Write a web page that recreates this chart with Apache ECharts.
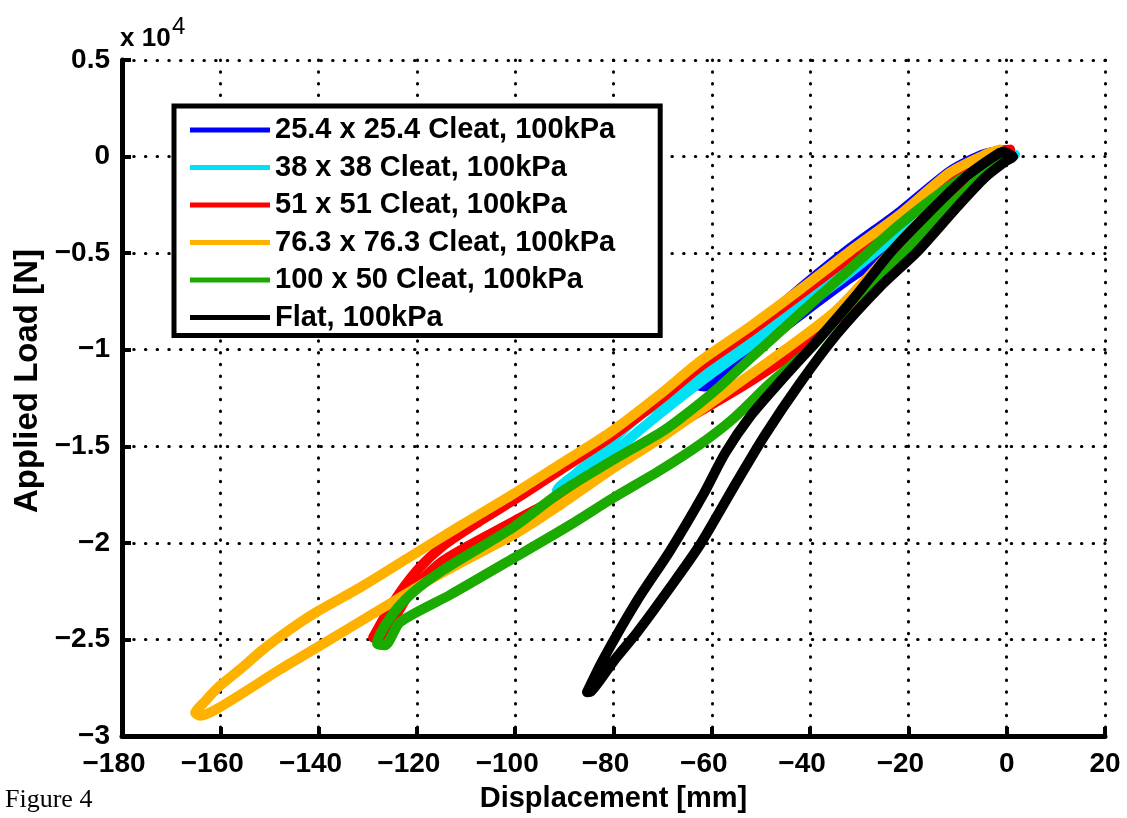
<!DOCTYPE html>
<html><head><meta charset="utf-8">
<script src="https://cdn.jsdelivr.net/npm/echarts@6/dist/echarts.min.js"></script>
<style>html,body{margin:0;padding:0;background:#fff}#c{width:1127px;height:818px}</style>
</head><body><div id="c"></div>
<script>
// ---- data (x: displacement mm, y: applied load N) ----
const seriesNames = [
  '25.4 x 25.4 Cleat, 100kPa',
  '38 x 38 Cleat, 100kPa',
  '51 x 51 Cleat, 100kPa',
  '76.3 x 76.3 Cleat, 100kPa',
  '100 x 50 Cleat, 100kPa',
  'Flat, 100kPa'
];
const seriesColors = ['#0000FF', '#00E1F5', '#FF0000', '#FFB100', '#1AAA00', '#000000'];
const xTicks = [-180, -160, -140, -120, -100, -80, -60, -40, -20, 0, 20];
const yTicks = [5000, 0, -5000, -10000, -15000, -20000, -25000, -30000];

const blueLoad = [[0.5,250],[-4.4,150],[-11.5,-750],[-21.7,-2850],[-31.9,-4750],[-40.0,-6400],[-46,-7700],[-52.2,-9000],[-57,-10300],[-60.5,-11200],[-62.6,-11850]];
const blueUnload = [[-61.5,-11900],[-58,-11200],[-54.3,-10500],[-46.1,-9000],[-40.7,-7950],[-31.9,-6300],[-25.2,-5150],[-17.6,-3500],[-9.5,-1700],[-2.4,-260],[0.3,0]];

const cyanLoad = [[1.7,100],[-3.4,-50],[-11.5,-1300],[-21.7,-3500],[-31.9,-5600],[-42.1,-7500],[-52.2,-9400],[-62.4,-11400],[-74.6,-13400],[-82.7,-15300],[-87.8,-16450],[-91.5,-17300]];
const cyanUnload = [[-91,-17350],[-87,-16500],[-82.7,-15900],[-76.7,-14600],[-70.5,-13300],[-63,-11800],[-55,-10300],[-46.1,-8700],[-31.9,-6000],[-21.7,-3900],[-11.5,-1800],[-3.4,-400],[1.1,0]];

const redLoad = [[0.7,360],[-3.4,200],[-11.5,-1080],[-21.7,-3250],[-31.9,-5200],[-42.1,-7160],[-52.2,-9070],[-62.4,-10880],[-70.5,-12580],[-80.7,-14540],[-90.9,-16240],[-99.0,-17580],[-107.8,-18970],[-114.7,-20160],[-120.0,-21440],[-124.8,-23090],[-128.9,-24900]];
const redUnload = [[-127.9,-24900],[-121.4,-22600],[-114.7,-20930],[-100.4,-18900],[-90.9,-17600],[-80.7,-16100],[-67.1,-13900],[-52.2,-11650],[-38.6,-9300],[-25.8,-6300],[-13.6,-3000],[-4.4,-670],[-0.3,-50]];

const orangeLoad = [[-1.4,360],[-4.4,100],[-11.5,-820],[-21.7,-3000],[-31.9,-4900],[-42.1,-6900],[-52.2,-8800],[-62.4,-10600],[-70.5,-12300],[-80.7,-14280],[-90.9,-15930],[-100.4,-17470],[-111.2,-19120],[-121.4,-20720],[-131.6,-22320],[-140.3,-23560],[-145.8,-24480],[-151.3,-25520],[-156.0,-26550],[-160.4,-27470],[-163.1,-28200],[-165.1,-28800]];
const orangeUnload = [[-164.1,-28950],[-160.4,-28560],[-147.8,-26550],[-140.3,-25410],[-127.5,-23450],[-117.4,-21910],[-109.2,-20770],[-100.4,-19590],[-90.9,-18040],[-80.7,-16240],[-70.5,-14590],[-52.2,-11300],[-35.3,-8100],[-25.2,-5400],[-11.5,-1700],[-4.4,-400],[-1.4,100]];

const greenLoad = [[-1.4,-150],[-9.5,-1190],[-21.7,-3500],[-31.9,-5820],[-42.1,-8140],[-52.2,-10460],[-59.3,-12110],[-66.4,-13560],[-70.5,-14300],[-80.7,-15800],[-90.9,-17400],[-100.4,-19200],[-114.6,-21400],[-121.4,-22700],[-125.5,-23900],[-128.1,-25200]];
const greenUnload = [[-126.5,-25300],[-123.4,-24100],[-113.3,-22700],[-100.4,-20800],[-88.8,-19070],[-80.1,-17680],[-70.5,-16240],[-62.4,-14900],[-55.6,-13560],[-48.2,-11750],[-40.0,-9950],[-31.9,-7630],[-20.3,-4800],[-11.5,-2500],[-3.4,-670],[-0.3,-150]];

const flatLoad = [[-1.4,200],[-4.4,-300],[-8.1,-1000],[-15.6,-2840],[-23.4,-4900],[-30.9,-7270],[-38.6,-9540],[-46.1,-11650],[-52.2,-13450],[-57.3,-15360],[-61.8,-17530],[-68.5,-20410],[-75.2,-22990],[-82.1,-26030],[-85.4,-27730]];
const flatUnload = [[-84.6,-27700],[-79.7,-26030],[-75.2,-24640],[-68.5,-22320],[-62.4,-20100],[-55.3,-17010],[-49.2,-14430],[-42.1,-11750],[-34.5,-9180],[-25.8,-6750],[-18.1,-4900],[-10.5,-2730],[-4.4,-1080],[-0.3,-260],[1.3,0],[-0.75,260]];

const seriesData = [
  blueLoad.concat(blueUnload),
  cyanLoad.concat(cyanUnload),
  redLoad.concat(redUnload),
  orangeLoad.concat(orangeUnload),
  greenLoad.concat(greenUnload),
  flatLoad.concat(flatUnload)
];

const FONT = '"Liberation Sans", Arial, Helvetica, sans-serif';
const minus = s => String(s).replace('-', '\u2212');
const dotted = { color: '#000', width: 3, type: [0.5, 11.2], cap: 'round' };
const tickFont = { fontSize: 28, fontWeight: 'bold', color: '#000', fontFamily: FONT };

const chart = echarts.init(document.getElementById('c'), null, { renderer: 'canvas' });
chart.setOption({
  animation: false,
  backgroundColor: '#fff',
  grid: { left: 122, right: 22, top: 60, bottom: 78, containLabel: false },
  xAxis: {
    type: 'value',
    min: xTicks[0], max: xTicks[xTicks.length - 1], interval: xTicks[1] - xTicks[0],
    name: 'Displacement [mm]', nameLocation: 'middle', nameGap: 48,
    nameTextStyle: { fontSize: 29, fontWeight: 'bold', color: '#000', fontFamily: FONT },
    axisLine: { show: true, onZero: false, lineStyle: { color: '#000', width: 5 } },
    axisTick: { show: true, inside: true, length: 9, lineStyle: { color: '#000', width: 4 } },
    axisLabel: Object.assign({}, tickFont, {
      margin: 14,
      formatter: v => v < 0 ? '{n|' + minus(v) + '}' : '{p|' + v + '}',
      rich: { n: Object.assign({}, tickFont, { padding: [0, 16, 0, 0] }), p: Object.assign({}, tickFont) }
    }),
    splitLine: { show: true, lineStyle: dotted }
  },
  yAxis: {
    type: 'value',
    min: yTicks[yTicks.length - 1], max: yTicks[0], interval: yTicks[0] - yTicks[1],
    axisLine: { show: true, onZero: false, lineStyle: { color: '#000', width: 5 } },
    axisTick: { show: true, inside: true, length: 9, lineStyle: { color: '#000', width: 4 } },
    axisLabel: Object.assign({}, tickFont, { margin: 12, formatter: v => minus(v / 10000) }),
    splitLine: { show: true, lineStyle: dotted }
  },
  legend: {
    orient: 'vertical', left: 174, top: 106, z: 20,
    itemWidth: 80, itemHeight: 5, itemGap: 7.5, icon: 'rect',
    padding: [9, 45, 3, 16],
    backgroundColor: '#fff', borderColor: '#000', borderWidth: 5,
    textStyle: { fontSize: 29, fontWeight: 'bold', color: '#000', fontFamily: FONT, lineHeight: 30 },
    data: seriesNames
  },
  graphic: [
    { type: 'text', left: 120, top: 26, style: { text: 'x 10', fontSize: 26, fontWeight: 'bold', fill: '#000', fontFamily: FONT } },
    { type: 'text', left: 172, top: 15, style: { text: '4', fontSize: 24, fill: '#000', fontFamily: FONT } },
    { type: 'text', x: 28, y: 381, rotation: Math.PI / 2, style: { text: 'Applied Load [N]', fontSize: 33, fontWeight: 'bold', fill: '#000', fontFamily: FONT, align: 'center', verticalAlign: 'middle' } },
    { type: 'text', left: 5, top: 787, style: { text: 'Figure 4', fontSize: 26, fill: '#000', fontFamily: '"Liberation Serif", "Times New Roman", serif' } }
  ],
  series: seriesNames.map((n, i) => ({
    name: n, type: 'line', data: seriesData[i], z: 2 + i,
    showSymbol: false, symbol: 'none', smooth: 0.25, silent: true,
    color: seriesColors[i],
    lineStyle: { width: 10, color: seriesColors[i], cap: 'round', join: 'round' },
    emphasis: { disabled: true }
  }))
});
</script></body></html>
